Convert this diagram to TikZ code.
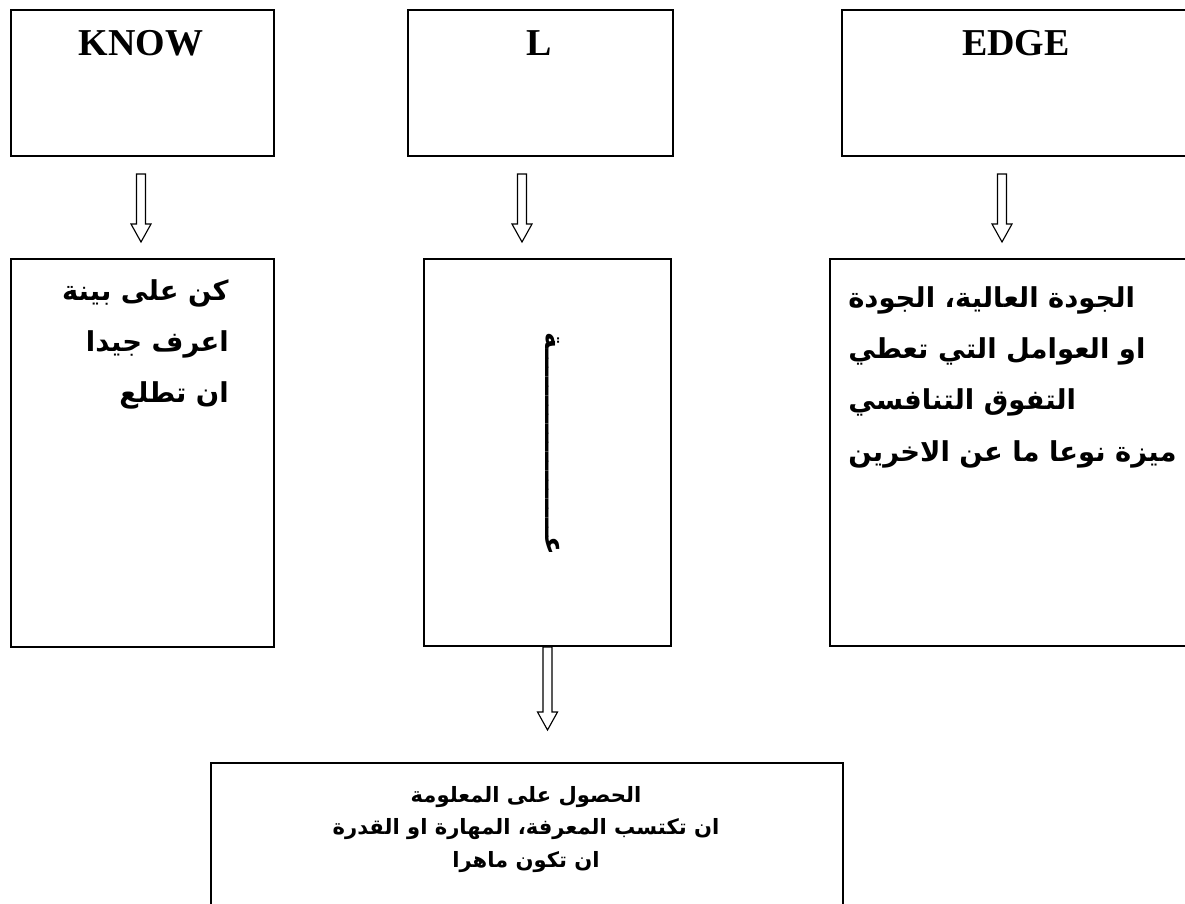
\documentclass[tikz,border=0pt]{standalone}
\usepackage{fontspec}
\setmainfont{Liberation Serif}
\newfontfamily\arabicfont[Script=Arabic]{DejaVu Sans}
\TeXXeTstate=1
\usetikzlibrary{calc}

\begin{document}
\begin{tikzpicture}[x=0.025cm,y=-0.025cm,
  box/.style={draw,line width=1.4pt,inner sep=0pt,anchor=north west},
  title/.style={font=\bfseries\fontsize{27}{27}\selectfont,inner sep=0pt,anchor=base},
  artext/.style={font=\arabicfont\bfseries\fontsize{19.5}{36.5}\selectfont,inner sep=0pt},
  hollow/.style={line width=0.8pt,to path={let \p1=(\tikztostart),\p2=(\tikztotarget) in
    (\x1-0.1125cm,\y1) -- (\x1-0.1125cm,\y2+0.45cm) -- (\x1-0.25cm,\y2+0.45cm) -- (\x1,\y2)
    -- (\x1+0.25cm,\y2+0.45cm) -- (\x1+0.1125cm,\y2+0.45cm) -- (\x1+0.1125cm,\y1) -- cycle}}]
  \useasboundingbox (0,0) rectangle (1185,903);
  \clip (0,0) rectangle (1185,903);
  \fill[white] (0,0) rectangle (1185,903);

  % top row
  \node[box,minimum width=6.575cm,minimum height=3.65cm] (know) at (10,9) {};
  \node[box,minimum width=6.625cm,minimum height=3.65cm] (l) at (407,9) {};
  \node[box,minimum width=9cm,minimum height=3.65cm] (edge) at (841,9) {};
  \node[title] (knowlbl) at (141,55) {KNOW};
  \node[title] (llbl) at (539,55) {L};
  \node[title] (edgelbl) at (1016,55) {EDGE};

  % middle row
  \node[box,minimum width=6.575cm,minimum height=9.7cm] (knowtxt) at (10,258) {};
  \node[box,minimum width=6.175cm,minimum height=9.675cm] (ltxt) at (423,258) {};
  \node[box,minimum width=9.15cm,minimum height=9.675cm] (edgetxt) at (829,258) {};
  \node[artext,anchor=north east,align=right] (knowar) at (229,279)
    {\beginR كن على بينة\endR\\ \beginR اعرف جيدا\endR\\ \beginR ان تطلع\endR};
  \node[artext,anchor=north west,align=left] (edgear) at (848,286)
    {\beginR الجودة العالية، الجودة\endR\\ \beginR او العوامل التي تعطي\endR\\
     \beginR التفوق التنافسي\endR\\ \beginR ميزة نوعا ما عن الاخرين\endR};
  \node[artext,rotate=-90] (lglyph) at (553,444) {\beginR عــــــــــــــــــــة\endR};

  % bottom
  \node[box,minimum width=15.8cm,minimum height=4cm] (result) at (210,762) {};
  \node[font=\arabicfont\bfseries\fontsize{15}{23}\selectfont,inner sep=0pt,anchor=north,align=center] (resultar) at (526,786)
    {\beginR الحصول على المعلومة\endR\\ \beginR ان تكتسب المعرفة، المهارة او القدرة\endR\\ \beginR ان تكون ماهرا\endR};

  % arrows
  \coordinate (a1s) at (141,174); \coordinate (a1e) at (141,242);
  \coordinate (a2s) at (522,174); \coordinate (a2e) at (522,242);
  \coordinate (a3s) at (1002,174); \coordinate (a3e) at (1002,242);
  \coordinate (a4e) at (547,730);
  \draw[hollow] (a1s) to (a1e);
  \draw[hollow] (a2s) to (a2e);
  \draw[hollow] (a3s) to (a3e);
  \draw[hollow] (ltxt.south) to (a4e);
\end{tikzpicture}
\end{document}
